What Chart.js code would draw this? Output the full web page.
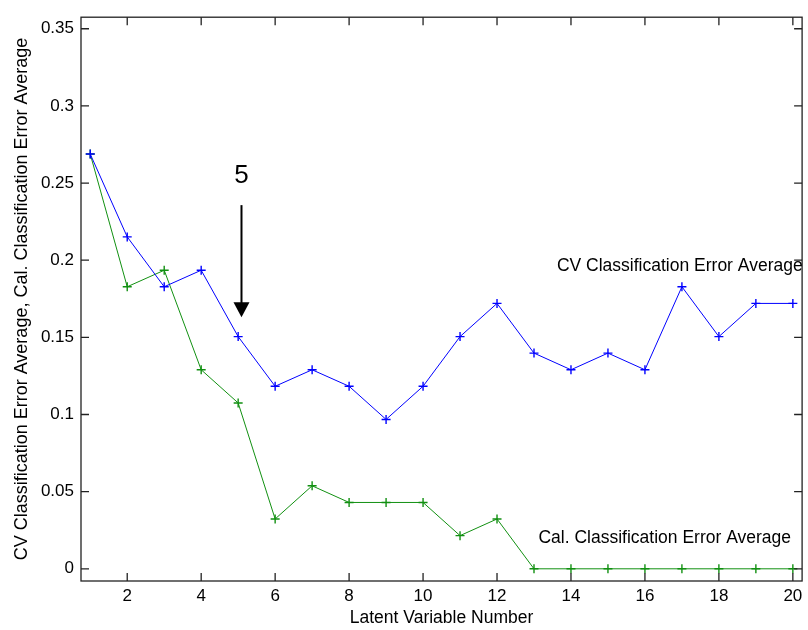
<!DOCTYPE html>
<html>
<head>
<meta charset="utf-8">
<title>Classification error vs latent variables</title>
<script src="https://cdn.jsdelivr.net/npm/chart.js@4.4.1/dist/chart.umd.min.js"></script>
<style>
    html, body { margin: 0; padding: 0; background: #fff; }
    #plot { display: block; }
</style>
</head>
<body>
<canvas id="plot" width="808" height="630"></canvas>
<script>
const latentVars = [1, 2, 3, 4, 5, 6, 7, 8, 9, 10, 11, 12, 13, 14, 15, 16, 17, 18, 19, 20];
const cvError = [0.2688, 0.2151, 0.1828, 0.1935, 0.1505, 0.1183, 0.1290, 0.1183, 0.0968, 0.1183,
                 0.1505, 0.1720, 0.1398, 0.1290, 0.1398, 0.1290, 0.1828, 0.1505, 0.1720, 0.1720];
const calError = [0.2688, 0.1828, 0.1935, 0.1290, 0.1075, 0.0323, 0.0538, 0.0430, 0.0430, 0.0430,
                  0.0215, 0.0323, 0, 0, 0, 0, 0, 0, 0, 0];
const xTickStep = 2;
const yTickStep = 0.05;
const chosenLV = 5;

const FONT = 'Liberation Sans, Arial, Helvetica, sans-serif';
const TICK_SIZE = 17;
const LABEL_SIZE = 17.5;

function toPoints(values) {
    return latentVars.map((x, i) => ({ x: x, y: values[i] }));
}

// frame with inward tick marks on all four sides, plus the text labels and arrow
const matlabAxes = {
    id: 'matlabAxes',
    afterDraw(chart) {
        const { ctx, chartArea: a, scales: { x, y } } = chart;
        const tl = 8;
        ctx.save();
        ctx.strokeStyle = '#222';
        ctx.lineWidth = 1.3;
        ctx.strokeRect(a.left, a.top, a.right - a.left, a.bottom - a.top);

        ctx.beginPath();
        x.ticks.forEach(t => {
            const px = x.getPixelForValue(t.value);
            ctx.moveTo(px, a.bottom); ctx.lineTo(px, a.bottom - tl);
            ctx.moveTo(px, a.top); ctx.lineTo(px, a.top + tl);
        });
        y.ticks.forEach(t => {
            const py = y.getPixelForValue(t.value);
            ctx.moveTo(a.left, py); ctx.lineTo(a.left + tl, py);
            ctx.moveTo(a.right, py); ctx.lineTo(a.right - tl, py);
        });
        ctx.stroke();

        // series labels
        ctx.fillStyle = '#000';
        ctx.font = LABEL_SIZE + 'px ' + FONT;
        ctx.textAlign = 'left';
        ctx.textBaseline = 'middle';
        ctx.fillText('CV Classification Error Average', x.getPixelForValue(13.62), y.getPixelForValue(0.196));
        ctx.fillText('Cal. Classification Error Average', x.getPixelForValue(13.12), y.getPixelForValue(0.0196));

        // arrow marking the selected number of latent variables
        const ax = x.getPixelForValue(chosenLV + 0.09);
        const y0 = y.getPixelForValue(0.2357);
        const y1 = y.getPixelForValue(0.163);
        ctx.font = '26px ' + FONT;
        ctx.textAlign = 'center';
        ctx.fillText(String(chosenLV), ax, y.getPixelForValue(0.255));
        ctx.strokeStyle = '#000';
        ctx.lineWidth = 2;
        ctx.beginPath();
        ctx.moveTo(ax, y0);
        ctx.lineTo(ax, y1 - 12);
        ctx.stroke();
        ctx.beginPath();
        ctx.moveTo(ax - 8, y1 - 15);
        ctx.lineTo(ax + 8, y1 - 15);
        ctx.lineTo(ax, y1);
        ctx.closePath();
        ctx.fill();
        ctx.restore();
    }
};

new Chart(document.getElementById('plot'), {
    type: 'line',
    data: {
        datasets: [
            {
                label: 'CV Classification Error Average',
                data: toPoints(cvError),
                borderColor: '#0000ff',
                borderWidth: 1,
                pointStyle: 'cross',
                pointRadius: 4.5,
                pointBorderWidth: 1.4,
                pointBorderColor: '#0000ff',
                tension: 0
            },
            {
                label: 'Cal. Classification Error Average',
                data: toPoints(calError),
                borderColor: '#119011',
                borderWidth: 1,
                pointStyle: 'cross',
                pointRadius: 4.5,
                pointBorderWidth: 1.4,
                pointBorderColor: '#119011',
                tension: 0
            }
        ]
    },
    options: {
        responsive: false,
        animation: false,
        layout: { padding: { top: 10, right: 1, left: 0, bottom: 0 } },
        plugins: { legend: { display: false }, tooltip: { enabled: false } },
        scales: {
            x: {
                type: 'linear',
                min: 0.75,
                max: 20.25,
                grid: { display: false, drawTicks: false },
                border: { display: false },
                ticks: {
                    stepSize: xTickStep,
                    includeBounds: false,
                    autoSkip: false,
                    maxRotation: 0,
                    padding: 5,
                    color: '#000',
                    font: { family: FONT, size: TICK_SIZE }
                },
                title: {
                    display: true,
                    text: 'Latent Variable Number',
                    color: '#000',
                    padding: { top: 0, bottom: 1 },
                    font: { family: FONT, size: LABEL_SIZE }
                },
                afterFit(scale) { scale.height = 49; }
            },
            y: {
                min: -0.0079,
                max: 0.3575,
                grid: { display: false, drawTicks: false },
                border: { display: false },
                ticks: {
                    stepSize: yTickStep,
                    includeBounds: false,
                    padding: 7,
                    color: '#000',
                    font: { family: FONT, size: TICK_SIZE },
                    callback: v => String(Number(v.toFixed(2)))
                },
                title: {
                    display: true,
                    text: 'CV Classification Error Average, Cal. Classification Error Average',
                    color: '#000',
                    padding: { top: 11, bottom: 0 },
                    font: { family: FONT, size: 18 }
                },
                afterFit(scale) { scale.width = 81; }
            }
        }
    },
    plugins: [matlabAxes]
});
</script>
</body>
</html>
